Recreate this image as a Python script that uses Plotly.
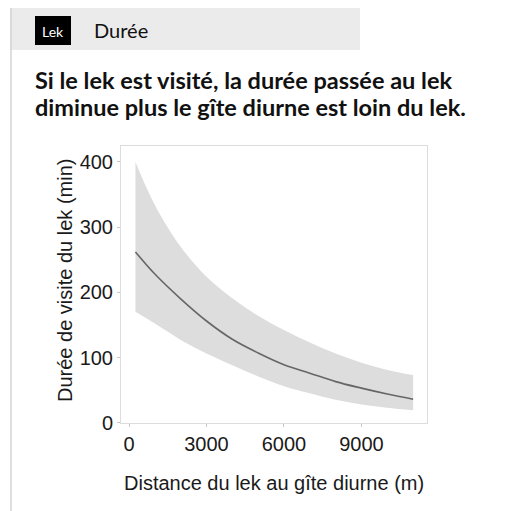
import plotly.graph_objects as go

# Data
distance = [250, 1000, 2000, 3000, 4000, 5000, 6000, 7000, 8000, 9000, 10000, 11000]
duree_mean = [262, 228, 190, 156, 128, 107, 89, 76, 63, 53, 44, 36]
duree_upper = [400, 334, 270, 224, 191, 164, 142, 123, 106, 92, 81, 73]
duree_lower = [170, 152, 127, 106, 88, 71, 56, 45, 35, 28, 23, 19]
x_ticks = [0, 3000, 6000, 9000]
y_ticks = [0, 100, 200, 300, 400]

OFF = 8  # page body margin of the browser
W, H = 516 - OFF, 511 - OFF
L, R, T, B = 121 - OFF, 427 - OFF, 146 - OFF, 423 - OFF  # plot area pixel box


def px(x):
    return (x - OFF - L) / (R - L)


def py(y):
    return (B - (y - OFF)) / (B - T)


fig = go.Figure()
fig.add_trace(go.Scatter(x=distance, y=duree_lower, mode="lines",
                         line=dict(width=0, color="#dddddd", shape="spline"), showlegend=False,
                         hoverinfo="skip"))
fig.add_trace(go.Scatter(x=distance, y=duree_upper, mode="lines", fill="tonexty",
                         fillcolor="#dddddd", line=dict(width=0, color="#dddddd", shape="spline"),
                         showlegend=False, hoverinfo="skip"))
fig.add_trace(go.Scatter(x=distance, y=duree_mean, mode="lines",
                         line=dict(width=1.6, color="#666666", shape="spline"), showlegend=False))

axis_font = dict(family="Liberation Sans, Arial, sans-serif", size=20, color="#1a1a1a")

fig.update_xaxes(range=[-310, 11537], tickvals=x_ticks, showgrid=False, zeroline=False,
                 showline=True, mirror=True, linecolor="#dcdcdc", linewidth=1,
                 ticks="outside", ticklen=3, tickcolor="#c8c8c8", tickfont=axis_font)
fig.update_yaxes(range=[-0.5, 424.5], tickvals=y_ticks, showgrid=False, zeroline=False,
                 showline=True, mirror=True, linecolor="#dcdcdc", linewidth=1,
                 ticks="outside", ticklen=3, tickcolor="#c8c8c8", tickfont=axis_font)

shapes = [
    # header band
    dict(type="rect", xref="paper", yref="paper", x0=px(10), x1=px(360), y0=py(7), y1=py(50),
         fillcolor="#ebebeb", line=dict(width=0), layer="below"),
    # top border line
    dict(type="line", xref="paper", yref="paper", x0=px(10), x1=px(516), y0=py(7), y1=py(7),
         line=dict(color="#d4d4d4", width=1)),
    # left border line
    dict(type="line", xref="paper", yref="paper", x0=px(11), x1=px(11), y0=py(7), y1=py(511),
         line=dict(color="#d4d4d4", width=1.5)),
    # black Lek box
    dict(type="rect", xref="paper", yref="paper", x0=px(35), x1=px(71), y0=py(16), y1=py(45),
         fillcolor="#000000", line=dict(width=0)),
]

annotations = [
    dict(text="Lek", x=px(53), y=py(31), xref="paper", yref="paper", showarrow=False,
         xanchor="center", yanchor="middle",
         font=dict(family="Lato, sans-serif", size=14, color="#ffffff")),
    dict(text="Durée", x=px(92), y=py(30), xref="paper", yref="paper", showarrow=False,
         xanchor="left", yanchor="middle",
         font=dict(family="Lato, sans-serif", size=20, color="#111111")),
    dict(text="<b>Si le lek est visité, la durée passée au lek</b>", x=px(33), y=py(80),
         xref="paper", yref="paper", showarrow=False, xanchor="left", yanchor="middle",
         font=dict(family="Lato, sans-serif", size=23.5, color="#111111")),
    dict(text="<b>diminue plus le gîte diurne est loin du lek.</b>", x=px(33), y=py(107),
         xref="paper", yref="paper", showarrow=False, xanchor="left", yanchor="middle",
         font=dict(family="Lato, sans-serif", size=23.5, color="#111111")),
    dict(text="Durée de visite du lek (min)", x=px(65), y=py(281), xref="paper", yref="paper",
         showarrow=False, textangle=-90, xanchor="center", yanchor="middle", font=axis_font),
    dict(text="Distance du lek au gîte diurne (m)", x=px(274), y=py(483), xref="paper",
         yref="paper", showarrow=False, xanchor="center", yanchor="middle", font=axis_font),
]

fig.update_layout(width=W, height=H, margin=dict(l=L, r=W - R, t=T, b=H - B),
                  paper_bgcolor="#ffffff", plot_bgcolor="#ffffff",
                  shapes=shapes, annotations=annotations)

fig.write_html("out.html")
